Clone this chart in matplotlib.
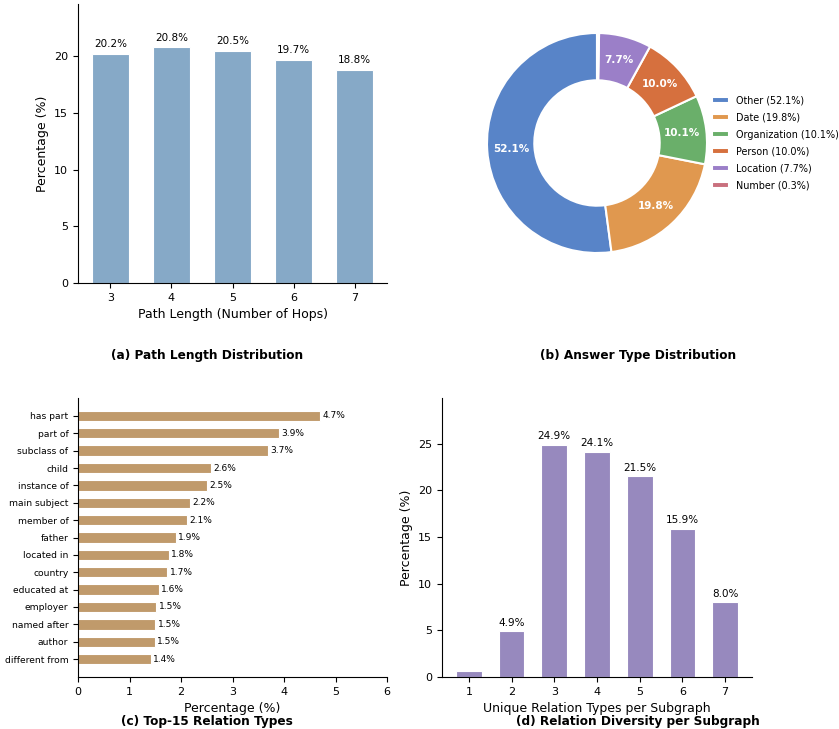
import matplotlib
matplotlib.use('Agg')
import matplotlib.pyplot as plt
import numpy as np

# (a) path length distribution
hops = [3, 4, 5, 6, 7]
hop_pct = [20.2, 20.8, 20.5, 19.7, 18.8]

# (b) answer types
answer_types = ['Other', 'Date', 'Organization', 'Person', 'Location', 'Number']
answer_pct = [52.1, 19.8, 10.1, 10.0, 7.7, 0.3]
answer_colors = ['#5884c8', '#e0984f', '#6aaf6a', '#d6703e', '#9b7fc8', '#c9707e']

# (c) top-15 relation types
relations = ['has part', 'part of', 'subclass of', 'child', 'instance of',
             'main subject', 'member of', 'father', 'located in', 'country',
             'educated at', 'employer', 'named after', 'author', 'different from']
relation_pct = [4.70, 3.90, 3.68, 2.58, 2.50, 2.17, 2.11, 1.90, 1.76, 1.73,
                1.57, 1.52, 1.50, 1.49, 1.41]

# (d) relation diversity
n_unique = [1, 2, 3, 4, 5, 6, 7]
unique_pct = [0.6, 4.9, 24.9, 24.1, 21.5, 15.9, 8.0]

W, H = 839, 729
fig = plt.figure(figsize=(W / 100, H / 100), dpi=100)


def px_axes(left, top, right, bottom, **kw):
    return fig.add_axes([left / W, 1 - bottom / H, (right - left) / W, (bottom - top) / H], **kw)


def clean(ax):
    ax.spines['top'].set_visible(False)
    ax.spines['right'].set_visible(False)
    ax.tick_params(labelsize=8)


# --- (a)
ax1 = px_axes(78, 4, 387, 283)
bars = ax1.bar(hops, hop_pct, width=0.6, color='#86a9c7', edgecolor='white', linewidth=0.8)
for b, v in zip(bars, hop_pct):
    ax1.text(b.get_x() + b.get_width() / 2, v + 0.4, f'{v:.1f}%', ha='center', va='bottom', fontsize=7.5)
ax1.set_ylim(0, 24.6)
ax1.set_xticks(hops)
ax1.set_xlabel('Path Length (Number of Hops)', fontsize=9)
ax1.set_ylabel('Percentage (%)', fontsize=9)
clean(ax1)
fig.text(207 / W, 1 - 356 / H, '(a) Path Length Distribution', ha='center', va='center',
         fontsize=8.7, fontweight='bold')

# --- (b)
s = 275
ax2 = px_axes(597 - s / 2, 143 - s / 2, 597 + s / 2, 143 + s / 2)
wedges, _, autotexts = ax2.pie(
    answer_pct, colors=answer_colors, startangle=90, counterclock=True,
    autopct=lambda p: f'{p:.1f}%' if p > 1 else '', pctdistance=0.78,
    wedgeprops=dict(width=0.43, edgecolor='white', linewidth=1.5),
    textprops=dict(color='white', fontsize=7.5, fontweight='bold'))
fig.legend(wedges, [f'{n} ({v:.1f}%)' for n, v in zip(answer_types, answer_pct)],
           loc='center left', bbox_to_anchor=(712 / W, 1 - 143 / H), frameon=False,
           fontsize=6.9, handlelength=1.8, handleheight=0.6, labelspacing=0.72,
           handletextpad=0.7, borderaxespad=0, borderpad=0)
fig.text(638 / W, 1 - 356 / H, '(b) Answer Type Distribution', ha='center', va='center',
         fontsize=8.7, fontweight='bold')

# --- (c)
ax3 = px_axes(78, 398, 387, 677)
ypos = np.arange(len(relations))
ax3.barh(ypos, relation_pct, height=0.6, color='#c09a6b', edgecolor='white', linewidth=0.8)
for y, v in zip(ypos, relation_pct):
    ax3.text(v + 0.05, y, f'{v:.1f}%', va='center', ha='left', fontsize=6.5)
ax3.set_yticks(ypos)
ax3.set_yticklabels(relations)
ax3.invert_yaxis()
ax3.set_xlim(0, 6)
ax3.set_xlabel('Percentage (%)', fontsize=9)
clean(ax3)
ax3.tick_params(axis='y', labelsize=6.6)
fig.text(207 / W, 1 - 722 / H, '(c) Top-15 Relation Types', ha='center', va='center',
         fontsize=8.7, fontweight='bold')

# --- (d)
ax4 = px_axes(442, 398, 752, 677)
bars = ax4.bar(n_unique, unique_pct, width=0.6, color='#9789be', edgecolor='white', linewidth=0.8)
for b, v in zip(bars, unique_pct):
    if v > 1:
        ax4.text(b.get_x() + b.get_width() / 2, v + 0.4, f'{v:.1f}%', ha='center', va='bottom', fontsize=7.5)
ax4.set_ylim(0, 29.9)
ax4.set_xticks(n_unique)
ax4.set_xlabel('Unique Relation Types per Subgraph', fontsize=9)
ax4.set_ylabel('Percentage (%)', fontsize=9)
clean(ax4)
fig.text(638 / W, 1 - 722 / H, '(d) Relation Diversity per Subgraph', ha='center', va='center',
         fontsize=8.7, fontweight='bold')

fig.savefig('out.png', dpi=100)
